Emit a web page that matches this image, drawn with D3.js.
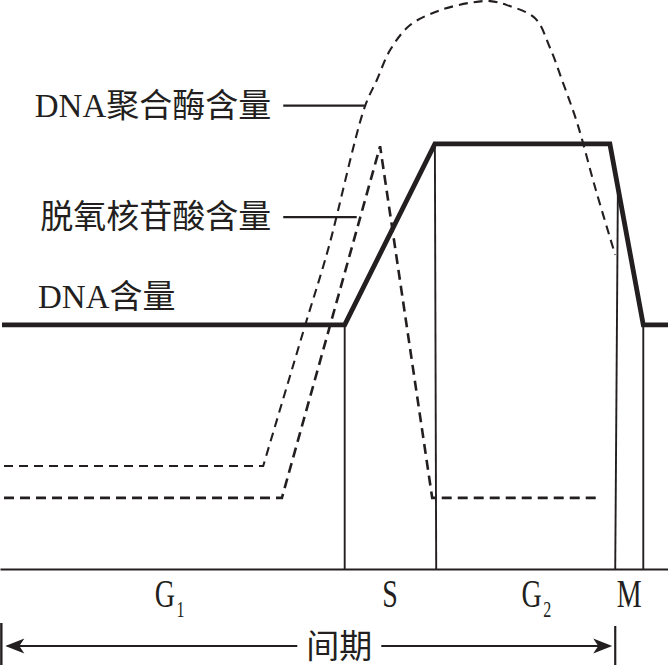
<!DOCTYPE html>
<html>
<head>
<meta charset="utf-8">
<script src="https://cdn.jsdelivr.net/npm/d3@7"></script>
<style>
  html, body { margin: 0; padding: 0; background: #fff; }
  svg { display: block; }
  text { font-family: "Liberation Serif", "Noto Sans CJK SC", serif; fill: #231f20; }
</style>
</head>
<body>
<div id="chart"></div>
<script>
// time (0-100) on x, relative content (0-100) on y
const dnaX = [0.3, 51.6, 65.1, 91.3, 96.3, 100];
const dnaY = [42.9, 42.9, 74.7, 74.7, 42.9, 42.9];

const polymeraseX = [0.6, 39.4, 45.7, 49.1, 54.6, 56.4, 58.4, 61.4, 65.9, 70.8, 73.4, 75.9, 80.1, 82.3, 84.3, 86.4, 89.2, 92.1];
const polymeraseY = [18.1, 18.1, 42.9, 56.1, 81.2, 85.9, 91.2, 95.6, 98.2, 99.6, 99.8, 99.1, 96.8, 91.7, 85.4, 78.4, 66.6, 55.2];

const nucleotideX = [0.6, 42.2, 56.9, 64.7, 90.0];
const nucleotideY = [12.5, 12.5, 74.3, 12.5, 12.5];

// phase boundaries (top may lean a little)
const boundaryTopX = [51.6, 65.1, 92.5, 96.3];
const boundaryBottomX = [51.6, 65.3, 92.1, 96.3];

const phaseNames = ["G", "S", "G", "M"];
const phaseSubs = ["1", "", "2", ""];
const phaseLabelX = [25.4, 58.4, 80.3, 94.2];

const interphase = [0.2, 92.1];
const interphaseLabel = "间期";

const seriesLabels = ["DNA聚合酶含量", "脱氧核苷酸含量", "DNA含量"];
const seriesLabelY = [81.6, 62.0, 48.0];
const leaderStartX = [42.4, 42.4, null];
const leaderEndX = [54.6, 53.4, null];

const width = 668, height = 670;
const x = d3.scaleLinear().domain([0, 100]).range([0, 668]);
const y = d3.scaleLinear().domain([0, 100]).range([569, 0]);

const svg = d3.select("#chart").append("svg")
  .attr("width", width)
  .attr("height", height);

const ink = "#231f20";

// baseline axis
svg.append("g")
  .attr("transform", `translate(0,${y(0)})`)
  .call(d3.axisBottom(x).ticks(0).tickSizeOuter(0))
  .call(g => g.select(".domain").attr("stroke", ink).attr("stroke-width", 2.2));

const dnaPts = dnaX.map((d, i) => [d, dnaY[i]]);
const dnaAt = xv => {
  for (let i = 1; i < dnaPts.length; i++) {
    const [x0, y0] = dnaPts[i - 1], [x1, y1] = dnaPts[i];
    if (xv >= x0 && xv <= x1) return y0 + (y1 - y0) * (xv - x0) / (x1 - x0);
  }
  return 0;
};

// thin phase boundaries
svg.append("g").selectAll("line")
  .data(boundaryTopX)
  .join("line")
  .attr("x1", (d, i) => x(boundaryBottomX[i]))
  .attr("y1", y(0))
  .attr("x2", d => x(d))
  .attr("y2", d => y(dnaAt(d)))
  .attr("stroke", ink)
  .attr("stroke-width", 1.9);

// DNA polymerase (dashed, rounded top)
const polyPts = polymeraseX.map((d, i) => [x(d), y(polymeraseY[i])]);
const curve = d3.line().curve(d3.curveCatmullRom.alpha(0.5))(polyPts.slice(1));
svg.append("path")
  .attr("d", `M${polyPts[0][0]},${polyPts[0][1]}L` + curve.slice(1))
  .attr("fill", "none")
  .attr("stroke", ink)
  .attr("stroke-width", 2.1)
  .attr("stroke-dasharray", "9,6");

// deoxynucleotides (dashed)
svg.append("path")
  .datum(nucleotideX.map((d, i) => [d, nucleotideY[i]]))
  .attr("d", d3.line().x(d => x(d[0])).y(d => y(d[1])))
  .attr("fill", "none")
  .attr("stroke", ink)
  .attr("stroke-width", 2.6)
  .attr("stroke-dasharray", "10,6");

// DNA content (thick)
svg.append("path")
  .datum(dnaPts)
  .attr("d", d3.line().x(d => x(d[0])).y(d => y(d[1])))
  .attr("fill", "none")
  .attr("stroke", ink)
  .attr("stroke-width", 4.8)
  .attr("stroke-linejoin", "miter");

// series labels and leader lines
seriesLabels.forEach((t, i) => {
  const hasLeader = leaderStartX[i] != null;
  svg.append("text")
    .attr("x", hasLeader ? x(leaderStartX[i]) - 12 : 38)
    .attr("y", y(seriesLabelY[i]))
    .attr("dy", "0.36em")
    .attr("text-anchor", hasLeader ? "end" : "start")
    .style("font-size", "33px")
    .text(t);
  if (hasLeader) {
    svg.append("line")
      .attr("x1", x(leaderStartX[i]))
      .attr("x2", x(leaderEndX[i]))
      .attr("y1", y(seriesLabelY[i]) + 1)
      .attr("y2", y(seriesLabelY[i]) + 1)
      .attr("stroke", ink)
      .attr("stroke-width", 2.2);
  }
});

// phase names under the axis
phaseNames.forEach((p, i) => {
  const t = svg.append("text")
    .attr("transform", `translate(${x(phaseLabelX[i])},${y(0) + 38}) scale(0.8,1.15)`)
    .attr("text-anchor", "middle")
    .style("font-size", "35px");
  t.append("tspan").text(p);
  if (phaseSubs[i]) {
    t.append("tspan")
      .attr("dx", 2)
      .attr("dy", 9)
      .style("font-size", "20px")
      .text(phaseSubs[i]);
  }
});

// interphase arrow
const arrowY = y(0) + 77;
const ticks = svg.append("g");
ticks.append("line")
  .attr("x1", x(interphase[0])).attr("x2", x(interphase[0]))
  .attr("y1", arrowY - 23).attr("y2", arrowY + 19)
  .attr("stroke", ink).attr("stroke-width", 2.4);
ticks.append("line")
  .attr("x1", x(interphase[1])).attr("x2", x(interphase[1]))
  .attr("y1", arrowY - 20).attr("y2", arrowY + 19)
  .attr("stroke", ink).attr("stroke-width", 2.2);

const midX = (x(interphase[0]) + x(interphase[1])) / 2 + 37;
svg.append("line")
  .attr("x1", x(interphase[0]) + 6).attr("x2", midX - 48)
  .attr("y1", arrowY).attr("y2", arrowY)
  .attr("stroke", ink).attr("stroke-width", 2);
svg.append("line")
  .attr("x1", midX + 36).attr("x2", x(interphase[1]) - 6)
  .attr("y1", arrowY).attr("y2", arrowY)
  .attr("stroke", ink).attr("stroke-width", 2);

const head = "M0,0L19,-7.5L14,0L19,7.5Z";
svg.append("path")
  .attr("d", head)
  .attr("transform", `translate(${x(interphase[0]) + 4},${arrowY})`)
  .attr("fill", ink);
svg.append("path")
  .attr("d", head)
  .attr("transform", `translate(${x(interphase[1]) - 3},${arrowY}) scale(-1,1)`)
  .attr("fill", ink);

svg.append("text")
  .attr("x", midX - 6)
  .attr("y", arrowY)
  .attr("dy", "0.36em")
  .attr("text-anchor", "middle")
  .style("font-size", "33px")
  .text(interphaseLabel);
</script>
</body>
</html>
